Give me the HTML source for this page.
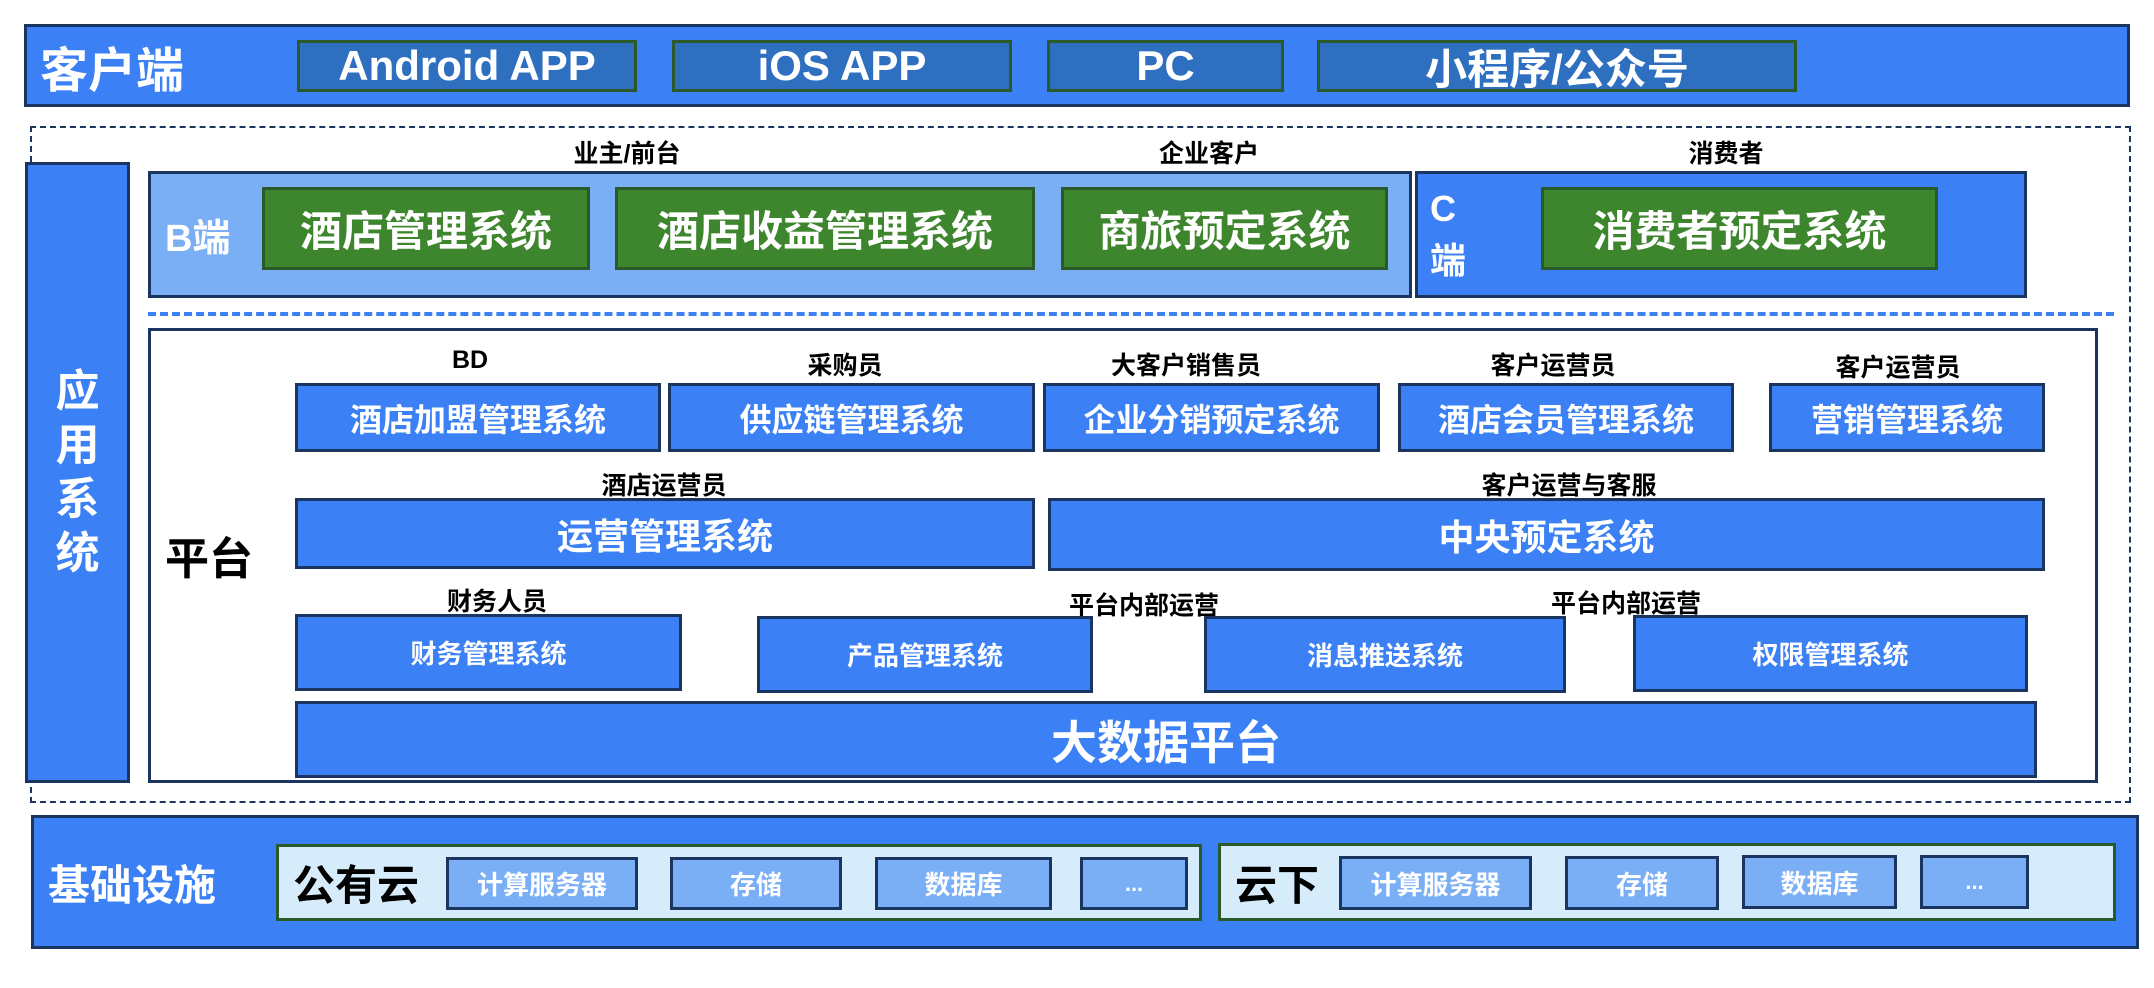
<!DOCTYPE html>
<html><head><meta charset="utf-8"><style>
body{margin:0;width:2154px;height:988px;background:#fff;position:relative;overflow:hidden;font-family:"Liberation Sans","Noto Sans CJK SC",sans-serif;font-weight:bold}
div{position:absolute;box-sizing:border-box}
.c{display:flex;align-items:center;justify-content:center;color:#fff;white-space:nowrap}
.blue{background:#3b80f4;border:3px solid #1a3660}
.dk{background:#2f6fc0;border:3px solid #2a5a2a}
.gr{background:#3e862e;border:3px solid #2a5a2a}
.lb{background:#7aaef5;border:3px solid #1a3660}
.lab{color:#000;font-size:25px;white-space:nowrap;transform:translateX(-50%)}
</style></head><body>
<div class="blue" style="left:24px;top:24px;width:2106px;height:83px"></div>
<div class="c" style="left:40px;top:24px;height:83px;font-size:48px">客户端</div>
<div class="c dk" style="left:297px;top:40px;width:340px;height:52px;font-size:42px">Android APP</div>
<div class="c dk" style="left:672px;top:40px;width:340px;height:52px;font-size:42px">iOS APP</div>
<div class="c dk" style="left:1047px;top:40px;width:237px;height:52px;font-size:42px">PC</div>
<div class="c dk" style="left:1317px;top:40px;width:480px;height:52px;font-size:42px">小程序/公众号</div>

<div style="left:30px;top:126px;width:2101px;height:677px;border:2px dashed #1a3660"></div>
<div class="blue" style="left:25px;top:162px;width:105px;height:621px"></div>
<div class="c" style="left:25px;top:162px;width:105px;height:621px;font-size:44px;white-space:normal;line-height:54px;text-align:center;padding:0 30px">应用系统</div>

<div class="lab" style="left:627px;top:134px">业主/前台</div>
<div class="lab" style="left:1209px;top:134px">企业客户</div>
<div class="lab" style="left:1726px;top:134px">消费者</div>
<div class="lb" style="left:148px;top:171px;width:1264px;height:127px"></div>
<div class="c" style="left:165px;top:171px;height:127px;font-size:38px">B端</div>
<div class="c gr" style="left:262px;top:187px;width:328px;height:83px;font-size:42px">酒店管理系统</div>
<div class="c gr" style="left:615px;top:187px;width:420px;height:83px;font-size:42px">酒店收益管理系统</div>
<div class="c gr" style="left:1061px;top:187px;width:327px;height:83px;font-size:42px">商旅预定系统</div>
<div class="blue" style="left:1415px;top:171px;width:612px;height:127px"></div>
<div class="c" style="left:1430px;top:180px;width:44px;height:110px;font-size:36px;white-space:normal;line-height:52px;text-align:left;justify-content:flex-start">C<br>端</div>
<div class="c gr" style="left:1541px;top:187px;width:397px;height:83px;font-size:42px">消费者预定系统</div>
<div style="left:148px;top:312px;width:1966px;height:0;border-top:4px dashed #3b80f4"></div>

<div style="left:148px;top:328px;width:1950px;height:455px;border:3px solid #1a3660"></div>
<div class="c" style="left:165px;top:515px;height:80px;font-size:44px;color:#000">平台</div>
<div class="lab" style="left:470px;top:346px">BD</div>
<div class="lab" style="left:845px;top:346px">采购员</div>
<div class="lab" style="left:1186px;top:346px">大客户销售员</div>
<div class="lab" style="left:1553px;top:346px">客户运营员</div>
<div class="lab" style="left:1898px;top:348px">客户运营员</div>
<div class="c blue" style="left:295px;top:383px;width:366px;height:69px;font-size:32px">酒店加盟管理系统</div>
<div class="c blue" style="left:668px;top:383px;width:367px;height:69px;font-size:32px">供应链管理系统</div>
<div class="c blue" style="left:1043px;top:383px;width:337px;height:69px;font-size:32px">企业分销预定系统</div>
<div class="c blue" style="left:1398px;top:383px;width:336px;height:69px;font-size:32px">酒店会员管理系统</div>
<div class="c blue" style="left:1769px;top:383px;width:276px;height:69px;font-size:32px">营销管理系统</div>
<div class="lab" style="left:664px;top:466px">酒店运营员</div>
<div class="lab" style="left:1569px;top:466px">客户运营与客服</div>
<div class="c blue" style="left:295px;top:498px;width:740px;height:71px;font-size:36px">运营管理系统</div>
<div class="c blue" style="left:1048px;top:498px;width:997px;height:73px;font-size:36px">中央预定系统</div>
<div class="lab" style="left:497px;top:582px">财务人员</div>
<div class="lab" style="left:1144px;top:586px">平台内部运营</div>
<div class="lab" style="left:1626px;top:584px">平台内部运营</div>
<div class="c blue" style="left:295px;top:614px;width:387px;height:77px;font-size:26px">财务管理系统</div>
<div class="c blue" style="left:757px;top:616px;width:336px;height:77px;font-size:26px">产品管理系统</div>
<div class="c blue" style="left:1204px;top:616px;width:362px;height:77px;font-size:26px">消息推送系统</div>
<div class="c blue" style="left:1633px;top:615px;width:395px;height:77px;font-size:26px">权限管理系统</div>
<div class="c blue" style="left:295px;top:701px;width:1742px;height:77px;font-size:46px">大数据平台</div>

<div class="blue" style="left:31px;top:815px;width:2108px;height:134px"></div>
<div class="c" style="left:48px;top:815px;height:134px;font-size:42px">基础设施</div>
<div style="left:276px;top:844px;width:926px;height:77px;background:#d6ecfb;border:3px solid #2a5a2a"></div>
<div class="c" style="left:293px;top:844px;height:77px;font-size:42px;color:#000">公有云</div>
<div class="c lb" style="left:446px;top:857px;width:192px;height:53px;font-size:26px">计算服务器</div>
<div class="c lb" style="left:670px;top:857px;width:172px;height:53px;font-size:26px">存储</div>
<div class="c lb" style="left:875px;top:857px;width:177px;height:53px;font-size:26px">数据库</div>
<div class="c lb" style="left:1080px;top:857px;width:108px;height:53px;font-size:22px">...</div>
<div style="left:1218px;top:843px;width:898px;height:78px;background:#d6ecfb;border:3px solid #2a5a2a"></div>
<div class="c" style="left:1235px;top:843px;height:78px;font-size:42px;color:#000">云下</div>
<div class="c lb" style="left:1339px;top:856px;width:193px;height:54px;font-size:26px">计算服务器</div>
<div class="c lb" style="left:1565px;top:856px;width:154px;height:54px;font-size:26px">存储</div>
<div class="c lb" style="left:1742px;top:855px;width:155px;height:54px;font-size:26px">数据库</div>
<div class="c lb" style="left:1920px;top:855px;width:109px;height:54px;font-size:22px">...</div>
</body></html>
